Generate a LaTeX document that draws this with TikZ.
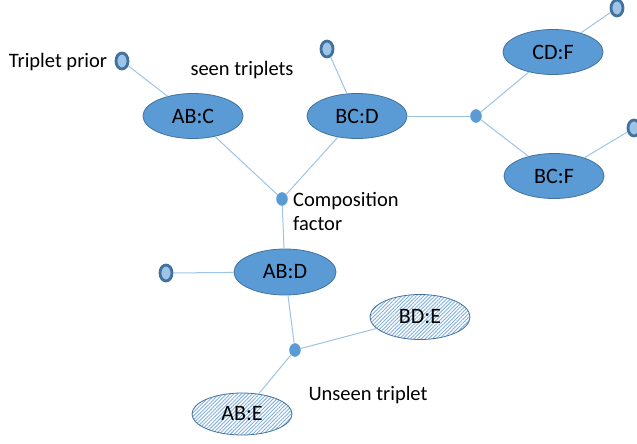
\documentclass[tikz,border=0pt]{standalone}
\usepackage{fontspec}
\setmainfont{Carlito}
\usetikzlibrary{shapes.geometric,patterns.meta}

\definecolor{tripfill}{HTML}{5B9BD5}
\definecolor{tripline}{HTML}{41719C}
\definecolor{priorfill}{HTML}{9DC3E6}
\definecolor{edgeblue}{HTML}{9DC3E6}
\definecolor{hatchblue}{HTML}{7FAFDF}

\begin{document}
\begin{tikzpicture}[
        x=1pt, y=-1pt,
        triplet/.style={ellipse, draw=tripline, line width=0.8pt, fill=tripfill,
            minimum width=100pt, minimum height=45pt, inner sep=0pt,
            font=\fontsize{22}{22}\selectfont},
        unseen/.style={triplet, fill=none,
            pattern={Lines[angle=45, distance=2.6pt, line width=0.9pt]},
            pattern color=hatchblue},
        prior/.style={ellipse, draw=tripline, line width=2.8pt, fill=priorfill,
            minimum width=12pt, minimum height=16pt, inner sep=0pt},
        factor/.style={ellipse, fill=tripfill, draw=tripfill,
            minimum width=11pt, minimum height=13pt, inner sep=0pt},
        note/.style={font=\fontsize{20.5}{24}\selectfont, inner sep=0pt},
        link/.style={draw=edgeblue, line width=1pt}
    ]

    \useasboundingbox (0,0) rectangle (637,444);

    % triplets
    \node[triplet] (abc) at (193,116) {AB:C};
    \node[triplet] (bcd) at (357,116) {BC:D};
    \node[triplet] (cdf) at (553,52) {CD:F};
    \node[triplet] (bcf) at (554,176) {BC:F};
    \node[triplet, minimum width=102pt, minimum height=46pt] (abd) at (285,272) {AB:D};
    \node[unseen] (bde) at (420,317) {BD:E};
    \node[unseen, minimum height=42pt] (abe) at (242,414) {AB:E};

    % priors
    \node[prior] (pabc) at (122,61) {};
    \node[prior] (pbcd) at (327,49) {};
    \node[prior] (pcdf) at (617,8) {};
    \node[prior] (pbcf) at (634,128) {};
    \node[prior] (pabd) at (166,273) {};

    % factors
    \node[factor] (fcomp) at (282,199) {};
    \node[factor] (fright) at (476,116) {};
    \node[factor] (flow) at (295,350) {};

    % links
    \draw[link] (pabc) -- (abc);
    \draw[link] (pbcd) -- (bcd);
    \draw[link] (pcdf) -- (cdf);
    \draw[link] (pbcf) -- (bcf);
    \draw[link] (pabd) -- (abd);
    \draw[link] (abc) -- (fcomp);
    \draw[link] (bcd) -- (fcomp);
    \draw[link] (fcomp) -- (abd);
    \draw[link] (bcd) -- (fright);
    \draw[link] (fright) -- (cdf);
    \draw[link] (fright) -- (bcf);
    \draw[link] (abd) -- (flow);
    \draw[link] (flow) -- (bde);
    \draw[link] (flow) -- (abe);

    % labels
    \node[note] (tprior) at (58,62) {Triplet prior};
    \node[note] (tseen) at (242,70) {seen triplets};
    \node[note, anchor=west, align=left] (tcomp) at (293,211) {Composition\\factor};
    \node[note] (tunseen) at (368,395) {Unseen triplet};
\end{tikzpicture}
\end{document}
